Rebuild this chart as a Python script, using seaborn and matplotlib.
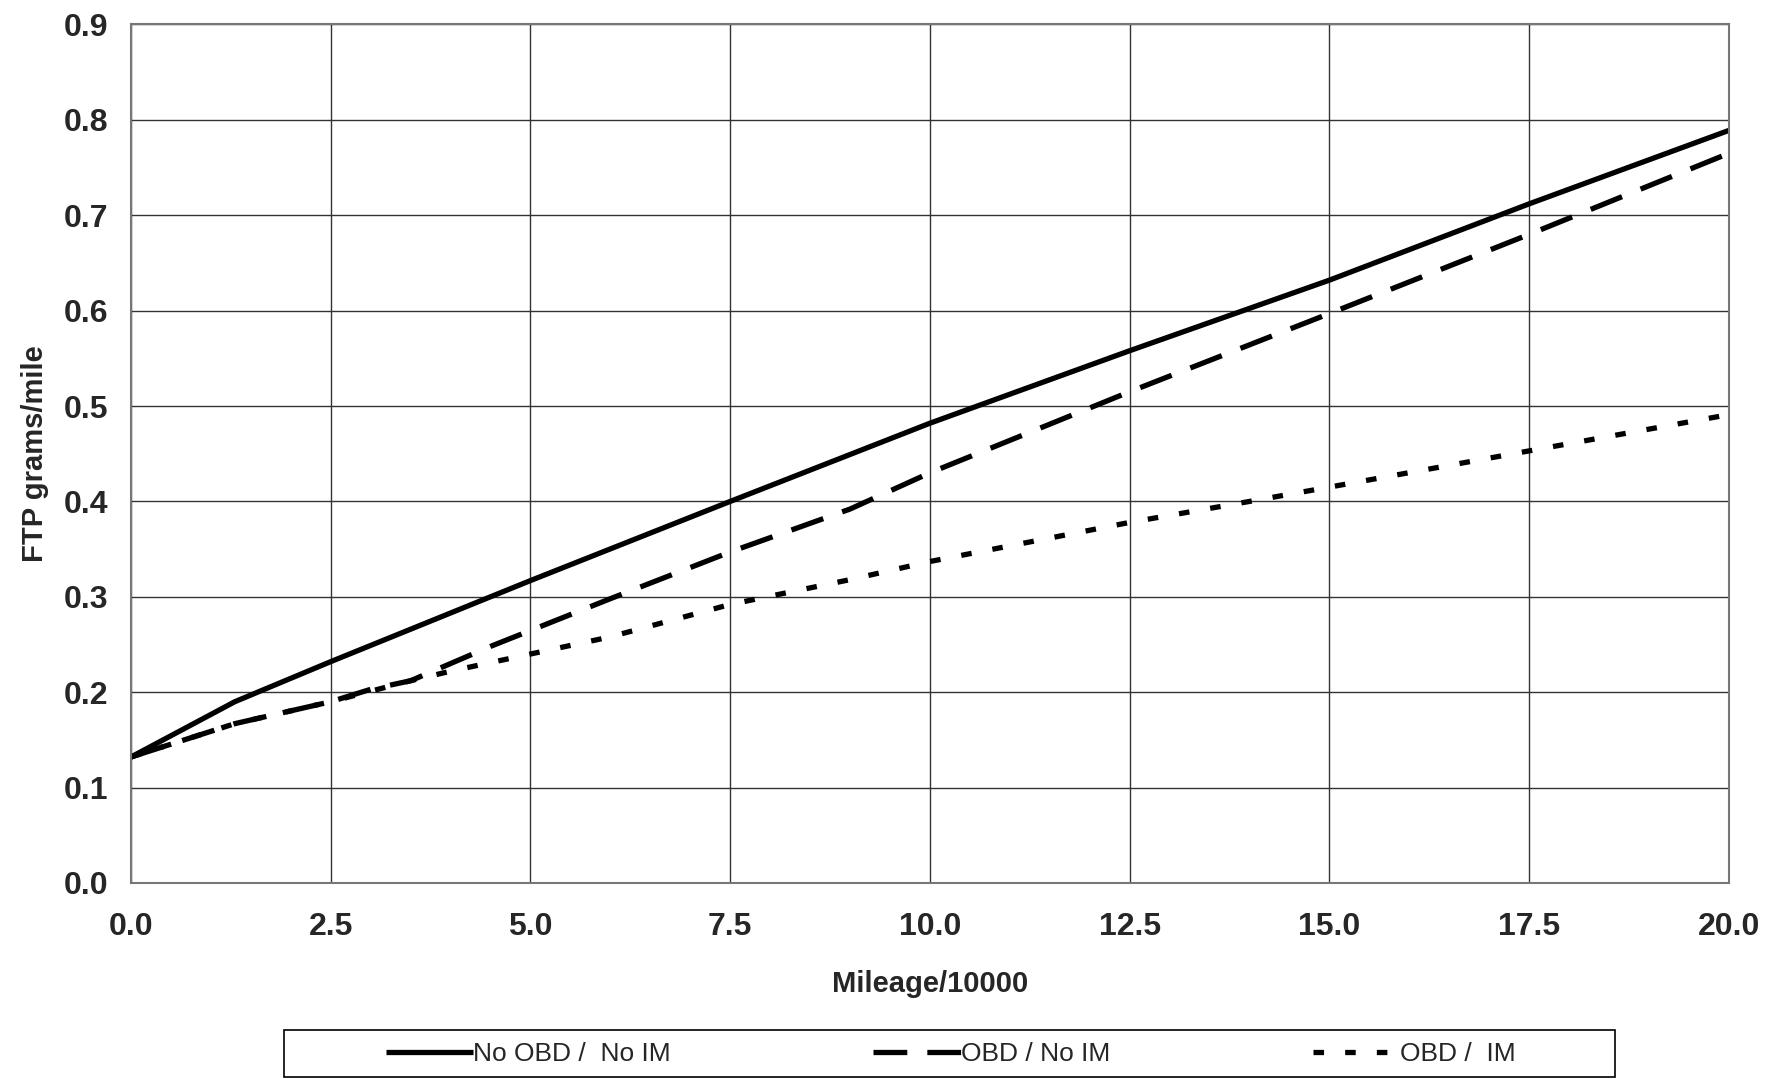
import pandas as pd
import seaborn as sns
import matplotlib.pyplot as plt
from matplotlib.patches import Rectangle

# values
mileage_solid = [0.0, 1.3, 2.5, 5.0, 7.5, 10.0, 12.5, 15.0, 17.5, 20.0]
ftp_solid = [0.132, 0.190, 0.232, 0.317, 0.400, 0.482, 0.558, 0.632, 0.712, 0.789]

mileage_dash = [0.0, 1.3, 2.5, 3.0, 3.5, 4.5, 6.0, 7.5, 9.0, 10.0, 12.5, 15.0, 17.5, 20.0]
ftp_dash = [0.132, 0.167, 0.190, 0.203, 0.212, 0.248, 0.298, 0.347, 0.392, 0.430, 0.515, 0.597, 0.680, 0.765]

mileage_dot = [0.0, 1.3, 2.5, 3.5, 4.0, 5.0, 6.0, 7.5, 9.0, 10.0, 12.5, 14.0, 15.0, 17.5, 20.0]
ftp_dot = [0.132, 0.167, 0.190, 0.212, 0.222, 0.240, 0.258, 0.292, 0.318, 0.337, 0.378, 0.400, 0.415, 0.453, 0.491]

labels = ['No OBD /  No IM', 'OBD / No IM', 'OBD /  IM']
x_ticks = [0, 2.5, 5, 7.5, 10, 12.5, 15, 17.5, 20]
y_ticks = [0.0, 0.1, 0.2, 0.3, 0.4, 0.5, 0.6, 0.7, 0.8, 0.9]

sns.set_style('white')
plt.rcParams['font.family'] = ['Liberation Sans', 'DejaVu Sans']

fig = plt.figure(figsize=(17.67, 10.79), dpi=100)
ax = fig.add_axes([0.0741, 0.1817, 0.9044, 0.7956])

lw = 3.8
sns.lineplot(x=mileage_solid, y=ftp_solid, ax=ax, color='black', lw=lw, label=labels[0])
sns.lineplot(x=mileage_dash, y=ftp_dash, ax=ax, color='black', lw=lw, label=labels[1])
sns.lineplot(x=mileage_dot, y=ftp_dot, ax=ax, color='black', lw=lw, label=labels[2])
lines = ax.get_lines()
lines[1].set_dashes([6.4, 3.8])
lines[2].set_dashes([2.0, 4.0])
for ln in lines:
    ln.set_solid_capstyle('butt')
    ln.set_dash_capstyle('butt')

ax.set_xlim(0, 20)
ax.set_ylim(0, 0.9)
ax.set_xticks(x_ticks)
ax.set_yticks(y_ticks)
ax.set_xticklabels([f'{v:.1f}' for v in x_ticks])
ax.set_yticklabels([f'{v:.1f}' for v in y_ticks])
ax.grid(True, color='#333333', lw=1.0)
ax.set_axisbelow(True)
for sp in ax.spines.values():
    sp.set_color('#777777')
    sp.set_linewidth(1.5)
ax.tick_params(axis='both', direction='out', length=9, width=1.2, color='#333333',
               labelsize=23, pad=7)
for t in ax.get_xticklabels() + ax.get_yticklabels():
    t.set_fontweight('bold')
ax.tick_params(axis='x', pad=12)

ax.set_xlabel('Mileage/10000', fontsize=21, fontweight='bold', labelpad=20)
ax.set_ylabel('FTP grams/mile', fontsize=21, fontweight='bold', labelpad=11)

handles, _ = ax.get_legend_handles_labels()
ax.get_legend().remove()
fig.legend(handles, labels, loc='center', bbox_to_anchor=(0.538, 0.023), ncol=3,
           frameon=False, fontsize=19, handlelength=3.3, handletextpad=0.0,
           columnspacing=7.7)
fig.add_artist(Rectangle((0.161, 0.002), 0.753, 0.043, transform=fig.transFigure,
                         fill=False, edgecolor='black', lw=1.2))

plt.savefig('out.png', dpi=100)
